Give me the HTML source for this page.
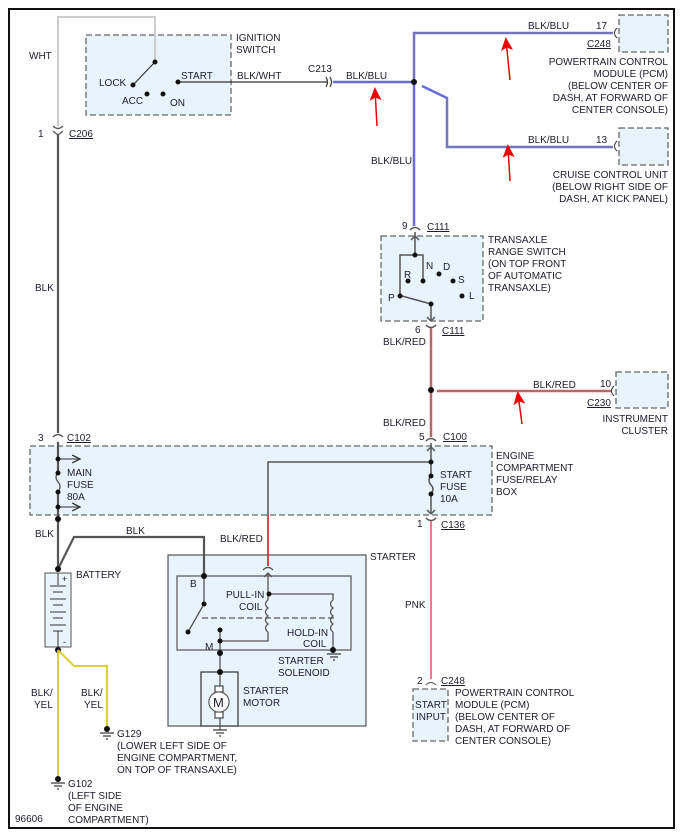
<!DOCTYPE html>
<html><head><meta charset="utf-8"><style>
html,body{margin:0;padding:0;background:#fff;}
svg{display:block;}
text{font-family:"Liberation Sans",sans-serif;font-size:10px;fill:#1c1c30;}
.u{text-decoration:underline;}
</style></head><body>
<svg width="683" height="836" viewBox="0 0 683 836" xmlns="http://www.w3.org/2000/svg">
<rect x="9" y="9" width="665" height="819" fill="#fff" stroke="#111" stroke-width="2"/>
<defs>
<marker id="ah" markerWidth="8" markerHeight="8" refX="6" refY="4" orient="auto"><path d="M0,1 L6,4 L0,7" fill="none" stroke="#333" stroke-width="1"/></marker>
<marker id="ra" markerWidth="10" markerHeight="10" refX="2" refY="5" orient="auto"><path d="M0,5 L9,1 L7,5 L9,9 Z" fill="#e00"/></marker>
</defs>
<g fill="#e8f4fc" stroke="#666" stroke-width="1.3" stroke-dasharray="6,3">
<rect x="86" y="35" width="145" height="80"/>
<rect x="619" y="15" width="49" height="37"/>
<rect x="619" y="128" width="49" height="37"/>
<rect x="381" y="236" width="102" height="85"/>
<rect x="616" y="372" width="52" height="36"/>
<rect x="30" y="446" width="462" height="69"/>
<rect x="413" y="689" width="35" height="52"/>
</g>
<rect x="168" y="555" width="198" height="171" fill="#e8f4fc" stroke="#555" stroke-width="1.2"/>
<rect x="177" y="576" width="174" height="74" fill="#e8f4fc" stroke="#555" stroke-width="1.2"/>
<rect x="201" y="672" width="37" height="54" fill="#e8f4fc" stroke="#333" stroke-width="1.2"/>
<rect x="45" y="573" width="26" height="74" fill="#e8f4fc" stroke="#555" stroke-width="1"/>
<!-- WHT -->
<polyline points="58,126 58,17 155,17 155,62" fill="none" stroke="#ccc" stroke-width="2"/>
<!-- ignition switch -->
<g stroke="#333" stroke-width="1.2" fill="none">
<line x1="155" y1="62" x2="133" y2="85"/>
<line x1="178" y1="82" x2="328" y2="82"/>
<path d="M326,77 q3,5 0,10 M330,77 q3,5 0,10"/>
</g>
<g fill="#111"><circle cx="155" cy="62" r="2.5"/><circle cx="133" cy="85" r="2.5"/><circle cx="147" cy="94" r="2.5"/><circle cx="163" cy="94" r="2.5"/><circle cx="178" cy="82" r="2.5"/></g>
<!-- blue wires -->
<g fill="none" stroke="#6a6ad8" stroke-width="2.5">
<line x1="333" y1="82" x2="414" y2="82"/>
<polyline points="414,82 414,33 613,33"/>
<polyline points="422,86 447,98 447,147 613,147"/>
<line x1="414" y1="82" x2="414" y2="226"/>
</g>
<g fill="none" stroke="#888" stroke-width="0.8">
<polyline points="414,82 414,33 613,33"/><polyline points="447,98 447,147 613,147"/>
</g>
<path d="M617,28 q-5,5 0,10 M617,141 q-5,5 0,10" fill="none" stroke="#333"/>
<circle cx="414" cy="82" r="3" fill="#111"/>
<!-- C111 & transaxle -->
<g stroke="#555" stroke-width="1.5" fill="none">
<path d="M410,230 q5,-5 10,0"/>
<line x1="415" y1="232" x2="415" y2="255"/>
<line x1="411" y1="240" x2="415" y2="236"/><line x1="419" y1="240" x2="415" y2="236"/>
<polyline points="400,296 400,255 423,255 423,281"/>
<line x1="431" y1="304" x2="402" y2="296"/>
<line x1="431" y1="304" x2="431" y2="321"/>
<line x1="427" y1="317" x2="431" y2="321"/><line x1="435" y1="317" x2="431" y2="321"/>
<path d="M426,325 q5,5 10,0"/>
</g>
<g fill="#111"><circle cx="415" cy="255" r="2.5"/><circle cx="423" cy="281" r="2.5"/><circle cx="439" cy="274" r="2.5"/><circle cx="408" cy="281" r="2.5"/><circle cx="453" cy="281" r="2.5"/><circle cx="462" cy="296" r="2.5"/><circle cx="400" cy="296" r="2.5"/><circle cx="431" cy="304" r="2.5"/></g>
<!-- blk/red vertical -->
<line x1="431" y1="328" x2="431" y2="437" stroke="#e06060" stroke-width="2.5"/>
<line x1="431" y1="328" x2="431" y2="437" stroke="#777" stroke-width="1"/>
<line x1="437" y1="391" x2="611" y2="391" stroke="#e06060" stroke-width="2.5"/>
<line x1="437" y1="391" x2="611" y2="391" stroke="#777" stroke-width="0.8"/>
<path d="M614,386 q-5,5 0,10" fill="none" stroke="#333"/>
<circle cx="431" cy="390" r="3" fill="#111"/>
<!-- start fuse -->
<g stroke="#555" stroke-width="1.5" fill="none">
<path d="M426,441 q5,-5 10,0"/>
<line x1="431" y1="443" x2="431" y2="476"/>
<line x1="427" y1="451" x2="431" y2="447"/><line x1="435" y1="451" x2="431" y2="447"/>
<path d="M431,476 q-4,4 0,9 q4,4 0,9"/>
<line x1="431" y1="494" x2="431" y2="514"/>
<line x1="427" y1="510" x2="431" y2="514"/><line x1="435" y1="510" x2="431" y2="514"/>
<path d="M426,518 q5,5 10,0"/>
<polyline points="431,462 268,462 268,566"/>
</g>
<line x1="268" y1="515" x2="268" y2="566" stroke="#e03030" stroke-width="1.5"/>
<g fill="#111"><circle cx="431" cy="462" r="2.5"/><circle cx="431" cy="476" r="2.5"/><circle cx="431" cy="494" r="2.5"/></g>
<line x1="431" y1="521" x2="431" y2="679" stroke="#f07890" stroke-width="2"/>
<path d="M426,685 q5,-5 10,0" fill="none" stroke="#555"/>
<!-- left BLK -->
<g stroke="#555" stroke-width="2.2" fill="none">
<line x1="58" y1="134" x2="58" y2="433"/>
<line x1="58" y1="442" x2="58" y2="473"/>
<line x1="58" y1="492" x2="58" y2="569"/>
<polyline points="58,569 74,537 204,537 204,576"/>
</g>
<g stroke="#555" stroke-width="1.3" fill="none">
<path d="M53,126 q5,5 10,0 M53,131 l5,4 l5,-4"/>
<path d="M53,437 q5,-5 10,0"/>
<path d="M58,473 q-4,4 0,9 q4,4 0,10"/>
<line x1="58" y1="459" x2="80" y2="459" marker-end="url(#ah)"/>
<line x1="58" y1="507" x2="80" y2="507" marker-end="url(#ah)"/>
</g>
<g fill="#111"><circle cx="58" cy="459" r="2.5"/><circle cx="58" cy="473" r="2.5"/><circle cx="58" cy="492" r="2.5"/><circle cx="58" cy="507" r="2.5"/><circle cx="58" cy="519" r="3"/><circle cx="58" cy="569" r="3"/><circle cx="58" cy="650" r="3"/></g>
<!-- battery plates -->
<g stroke="#333" stroke-width="1">
<line x1="58" y1="573" x2="58" y2="585"/>
<line x1="50" y1="586" x2="66" y2="586"/><line x1="53" y1="592" x2="63" y2="592"/>
<line x1="50" y1="599" x2="66" y2="599"/><line x1="53" y1="605" x2="63" y2="605"/>
<line x1="50" y1="612" x2="66" y2="612"/><line x1="53" y1="618" x2="63" y2="618"/>
<line x1="50" y1="625" x2="66" y2="625"/><line x1="53" y1="631" x2="63" y2="631"/>
<line x1="58" y1="631" x2="58" y2="647"/>
</g>
<text x="62" y="582" style="font-size:9px">+</text><text x="63" y="645" style="font-size:9px">-</text>
<!-- yellow -->
<g fill="none" stroke="#d8c820" stroke-width="1.8">
<line x1="58" y1="650" x2="58" y2="778"/>
<polyline points="58,650 74,666 107,666 107,728"/>
</g>
<g stroke="#333" stroke-width="1.2">
<line x1="100" y1="733" x2="114" y2="733"/><line x1="103" y1="736" x2="111" y2="736"/><line x1="106" y1="739" x2="108" y2="739"/>
<line x1="51" y1="783" x2="65" y2="783"/><line x1="54" y1="786" x2="62" y2="786"/><line x1="57" y1="789" x2="59" y2="789"/>
</g>
<circle cx="107" cy="729" r="3" fill="#111"/><circle cx="58" cy="779" r="3" fill="#111"/>
<!-- starter internals -->
<g stroke="#555" stroke-width="1.3" fill="none">
<line x1="204" y1="576" x2="204" y2="604"/>
<line x1="204" y1="604" x2="188" y2="632"/>
<line x1="202" y1="618" x2="336" y2="618" stroke-dasharray="6,3"/>
<path d="M263,570 q5,-5 10,0 M264,577 l4,-4 l4,4"/>
<line x1="268" y1="573" x2="268" y2="600"/>
<path d="M268,600 q-5,4 0,8 q-5,4 0,8 q-5,4 0,8 q-5,4 0,8"/>
<polyline points="268,632 268,641 220,641"/>
<polyline points="268,594 333,594 333,600"/>
<path d="M333,600 q-5,4 0,8 q-5,4 0,8 q-5,4 0,8 q-5,4 0,8"/>
<line x1="333" y1="632" x2="333" y2="649"/>
<line x1="220" y1="630" x2="220" y2="672"/>
<line x1="220" y1="726" x2="220" y2="730"/>
<circle cx="219" cy="702" r="10" fill="#fff"/>
<rect x="215" y="686" width="8" height="6" fill="#fff"/>
<rect x="215" y="712" width="8" height="6" fill="#fff"/>
<line x1="220" y1="672" x2="220" y2="686"/><line x1="220" y1="718" x2="220" y2="726"/>
</g>
<circle cx="219" cy="702" r="10" fill="#fff" stroke="#555"/>
<text x="213" y="707" style="font-size:13px">M</text>
<g stroke="#333" stroke-width="1.2">
<line x1="327" y1="654" x2="341" y2="654"/><line x1="330" y1="657" x2="338" y2="657"/><line x1="333" y1="660" x2="335" y2="660"/>
<line x1="213" y1="730" x2="227" y2="730"/><line x1="216" y1="733" x2="224" y2="733"/><line x1="219" y1="736" x2="221" y2="736"/>
</g>
<g fill="#111"><circle cx="204" cy="576" r="3"/><circle cx="204" cy="604" r="2.5"/><circle cx="188" cy="632" r="2.5"/><circle cx="269" cy="594" r="2.5"/><circle cx="220" cy="630" r="2.5"/><circle cx="220" cy="641" r="2.5"/><circle cx="220" cy="653" r="3"/><circle cx="220" cy="672" r="3"/><circle cx="333" cy="650" r="3"/></g>
<!-- red arrows -->
<g stroke="#e00" stroke-width="1.5" marker-start="url(#ra)">
<line x1="375" y1="90" x2="377" y2="126"/>
<line x1="506" y1="40" x2="510" y2="80"/>
<line x1="508" y1="147" x2="510" y2="181"/>
<line x1="518" y1="394" x2="522" y2="424"/>
</g>
<!-- text -->
<text x="29" y="59">WHT</text>
<text x="236" y="41">IGNITION</text><text x="236" y="53">SWITCH</text>
<text x="99" y="86">LOCK</text><text x="181" y="79">START</text>
<text x="122" y="104">ACC</text><text x="170" y="106">ON</text>
<text x="237" y="79">BLK/WHT</text><text x="308" y="72">C213</text>
<text x="346" y="79">BLK/BLU</text>
<text x="528" y="29">BLK/BLU</text><text x="596" y="29">17</text><text x="587" y="47" class="u">C248</text>
<text x="668" y="65" text-anchor="end">POWERTRAIN CONTROL</text>
<text x="668" y="77" text-anchor="end">MODULE (PCM)</text>
<text x="668" y="89" text-anchor="end">(BELOW CENTER OF</text>
<text x="668" y="101" text-anchor="end">DASH, AT FORWARD OF</text>
<text x="668" y="113" text-anchor="end">CENTER CONSOLE)</text>
<text x="528" y="143">BLK/BLU</text><text x="596" y="143">13</text>
<text x="668" y="178" text-anchor="end">CRUISE CONTROL UNIT</text>
<text x="668" y="190" text-anchor="end">(BELOW RIGHT SIDE OF</text>
<text x="668" y="202" text-anchor="end">DASH, AT KICK PANEL)</text>
<text x="371" y="164">BLK/BLU</text>
<text x="402" y="229">9</text><text x="427" y="230" class="u">C111</text>
<text x="488" y="243">TRANSAXLE</text><text x="488" y="255">RANGE SWITCH</text><text x="488" y="267">(ON TOP FRONT</text><text x="488" y="279">OF AUTOMATIC</text><text x="488" y="291">TRANSAXLE)</text>
<text x="426" y="269">N</text><text x="443" y="270">D</text><text x="404" y="278">R</text><text x="458" y="283">S</text><text x="469" y="299">L</text><text x="388" y="301">P</text>
<text x="415" y="333">6</text><text x="442" y="334" class="u">C111</text>
<text x="383" y="345">BLK/RED</text>
<text x="533" y="388">BLK/RED</text><text x="600" y="387">10</text><text x="587" y="406" class="u">C230</text>
<text x="668" y="422" text-anchor="end">INSTRUMENT</text><text x="668" y="434" text-anchor="end">CLUSTER</text>
<text x="383" y="426">BLK/RED</text>
<text x="419" y="440">5</text><text x="443" y="440" class="u">C100</text>
<text x="496" y="459">ENGINE</text><text x="496" y="471">COMPARTMENT</text><text x="496" y="483">FUSE/RELAY</text><text x="496" y="495">BOX</text>
<text x="440" y="478">START</text><text x="440" y="490">FUSE</text><text x="440" y="502">10A</text>
<text x="417" y="527">1</text><text x="441" y="528" class="u">C136</text>
<text x="405" y="608">PNK</text>
<text x="417" y="684">2</text><text x="441" y="684" class="u">C248</text>
<text x="415" y="708">START</text><text x="416" y="720">INPUT</text>
<text x="455" y="696">POWERTRAIN CONTROL</text><text x="455" y="708">MODULE (PCM)</text><text x="455" y="720">(BELOW CENTER OF</text><text x="455" y="732">DASH, AT FORWARD OF</text><text x="455" y="744">CENTER CONSOLE)</text>
<text x="38" y="137">1</text><text x="69" y="137" class="u">C206</text>
<text x="35" y="291">BLK</text>
<text x="38" y="441">3</text><text x="67" y="441" class="u">C102</text>
<text x="67" y="476">MAIN</text><text x="67" y="488">FUSE</text><text x="67" y="500">80A</text>
<text x="35" y="537">BLK</text><text x="126" y="534">BLK</text><text x="220" y="542">BLK/RED</text>
<text x="76" y="578">BATTERY</text>
<text x="370" y="560">STARTER</text>
<text x="190" y="587">B</text>
<text x="226" y="598">PULL-IN</text><text x="239" y="610">COIL</text>
<text x="287" y="636">HOLD-IN</text><text x="303" y="647">COIL</text>
<text x="205" y="650">M</text>
<text x="278" y="664">STARTER</text><text x="278" y="676">SOLENOID</text>
<text x="243" y="694">STARTER</text><text x="243" y="706">MOTOR</text>
<text x="31" y="696">BLK/</text><text x="34" y="708">YEL</text>
<text x="81" y="696">BLK/</text><text x="84" y="708">YEL</text>
<text x="117" y="737">G129</text><text x="117" y="749">(LOWER LEFT SIDE OF</text><text x="117" y="761">ENGINE COMPARTMENT,</text><text x="117" y="773">ON TOP OF TRANSAXLE)</text>
<text x="68" y="787">G102</text><text x="68" y="799">(LEFT SIDE</text><text x="68" y="811">OF ENGINE</text><text x="68" y="823">COMPARTMENT)</text>
<text x="15" y="822">96606</text>
</svg>
</body></html>
